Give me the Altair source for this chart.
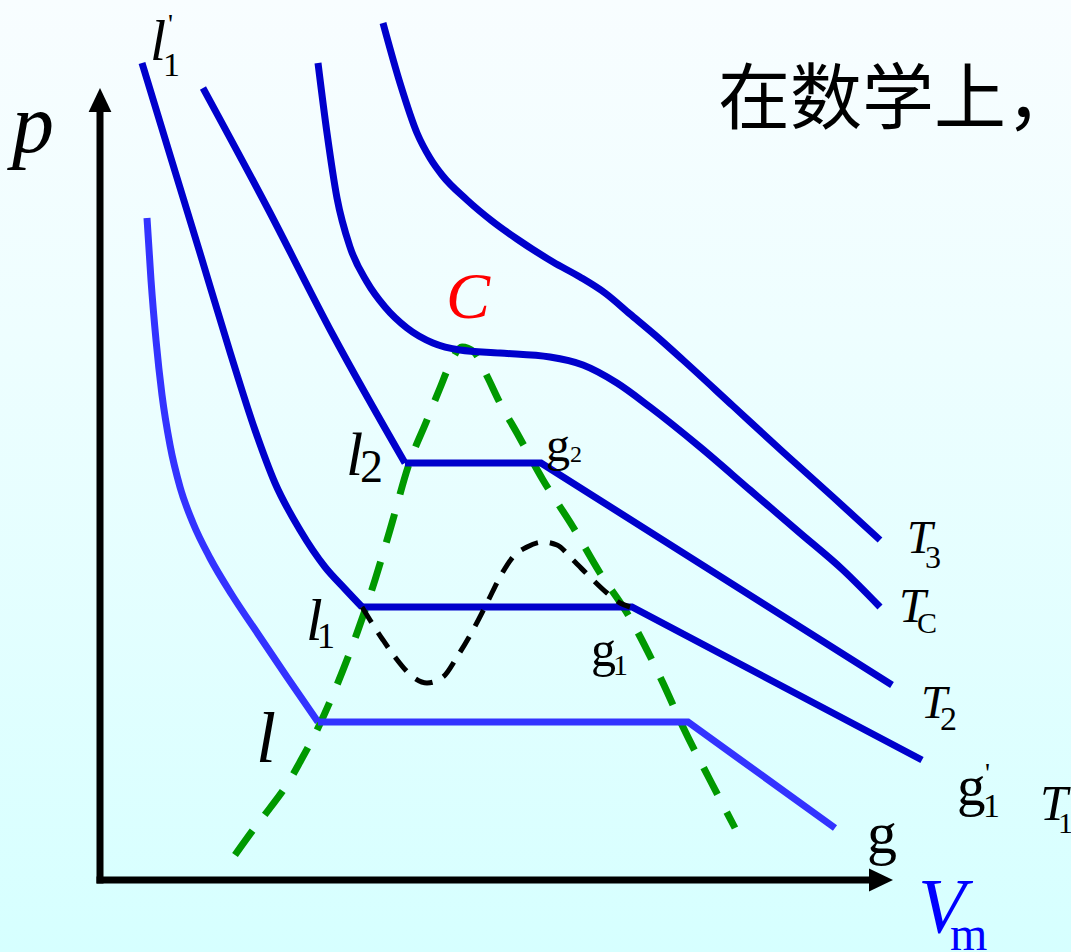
import altair as alt
import pandas as pd

W, H = 1071, 952

# ---- isotherms (diagram coordinates: x = V to the right, y measured down from the top) ----
t3_x = [383, 400, 417, 430, 442, 467, 492, 517, 553, 580, 605, 630, 655, 683, 733, 783, 833, 880]
t3_y = [23, 83, 133, 158, 175, 200, 221, 239, 262, 277, 293, 314, 335, 360, 406, 452, 497, 540]

tc_x = [318, 327, 337, 350, 367, 385, 407, 433, 460, 500, 550, 583, 617, 650, 700, 750, 800, 843, 880]
tc_y = [63, 133, 198, 247, 282, 307, 328, 343, 350, 353, 357, 365, 383, 407, 447, 490, 533, 570, 607]

t2_left_x = [203, 267, 333, 405]
t2_left_y = [88, 207, 335, 463]
t2_right_x = [405, 541, 892]
t2_right_y = [463, 463, 685]

t1_left_x = [142, 170, 200, 230, 255, 275, 300, 325, 345, 362]
t1_left_y = [63, 155, 253, 352, 430, 483, 530, 567, 589, 607]
t1_right_x = [362, 632, 922]
t1_right_y = [607, 607, 760]

low_left_x = [147, 151, 156, 162, 170, 180, 193, 210, 232, 258, 287, 318]
low_left_y = [218, 280, 340, 395, 445, 487, 523, 558, 595, 634, 677, 722]
low_right_x = [318, 688, 835]
low_right_y = [722, 722, 828]

# coexistence boundary (green dashed) through l, l1, l2, C, g2, g1, g
dome_x = [235, 253, 270, 288, 300, 318, 337, 357, 375, 392, 408, 427, 440, 450, 462,
          474, 487, 500, 517, 543, 573, 600, 627, 663, 683, 710, 735]
dome_y = [855, 830, 808, 783, 762, 728, 685, 633, 580, 523, 467, 420, 388, 364, 347,
          352, 376, 403, 433, 480, 527, 573, 613, 683, 727, 780, 828]

# van der Waals loop between l1 and g1 (black dashed)
loop_x = [362, 370, 383, 395, 413, 427, 443, 457, 473, 487, 500, 513, 527, 543, 557,
          573, 590, 607, 620, 630]
loop_y = [607, 620, 640, 657, 677, 683, 677, 657, 630, 603, 577, 557, 547, 542, 545,
          560, 577, 593, 603, 607]

# axes
axis_names = ["p_axis", "p_axis", "v_axis", "v_axis"]
axis_x = [100, 100, 96.5, 870]
axis_y = [883.5, 110, 880, 880]
head_x = [100, 881]
head_y = [100, 880]
head_shape = ["M0,-1L0.95,1L-0.95,1Z", "M1,0L-1,0.95L-1,-0.95Z"]

# ---- labels ----
ital_text = ["p", "l", "C", "l", "l", "l", "T", "T", "T", "T", "V"]
ital_x = [12, 150, 446, 346, 306, 256, 907, 899, 921, 1040, 918]
ital_y = [152, 60, 318, 475, 640, 762, 553, 622, 718, 820, 932]
ital_size = [84, 58, 66, 62, 60, 72, 46, 48, 47, 50, 78]
ital_color = ["#000000", "#000000", "#FF0000", "#000000", "#000000", "#000000",
              "#000000", "#000000", "#000000", "#000000", "#0000FF"]

up_text = ["'", "1", "2", "g", "2", "1", "g", "1", "3", "C", "2", "g", "'", "1", "1", "g", "m"]
up_x = [168, 163, 360, 546, 570, 317, 591, 613, 925, 917, 940, 957, 985, 983, 1058, 867, 950]
up_y = [33, 76, 482, 461, 462, 648, 666, 675, 568, 633, 730, 805, 782, 817, 833, 853, 950]
up_size = [28, 34, 46, 48, 24, 36, 50, 30, 32, 30, 34, 57, 28, 34, 30, 60, 48]
up_color = ["#000000"] * 16 + ["#0000FF"]

cjk_text = ["在数学上，"]
cjk_x = [718]
cjk_y = [123]
cjk_size = [72]

DARK = "#0000CC"
LIGHT = "#3333FF"
SERIF = "Times New Roman, Liberation Serif, serif"


def series(name, xs, ys, color):
    return pd.DataFrame({"curve": name, "i": list(range(len(xs))), "x": xs, "y": ys, "col": color})


X = alt.X("x:Q", scale=alt.Scale(domain=[0, W], nice=False, zero=False), axis=None)
Y = alt.Y("y:Q", scale=alt.Scale(domain=[0, H], nice=False, zero=False, reverse=True), axis=None)

bg = alt.Chart(pd.DataFrame({"x": [0], "x2": [W], "y": [0], "y2": [H]})).mark_rect(
    fill=alt.Gradient(
        gradient="linear", x1=0, y1=0, x2=0, y2=1,
        stops=[alt.GradientStop(color="#F8FDFF", offset=0),
               alt.GradientStop(color="#EEFEFF", offset=0.35),
               alt.GradientStop(color="#D6FFFF", offset=1)],
    ),
    strokeWidth=0,
).encode(x=X, x2="x2:Q", y=Y, y2="y2:Q")

smooth_df = pd.concat([
    series("T3", t3_x, t3_y, DARK),
    series("TC", tc_x, tc_y, DARK),
    series("T2", t2_left_x, t2_left_y, DARK),
    series("T1", t1_left_x, t1_left_y, DARK),
    series("low", low_left_x, low_left_y, LIGHT),
])
straight_df = pd.concat([
    series("T2", t2_right_x, t2_right_y, DARK),
    series("T1", t1_right_x, t1_right_y, DARK),
    series("low", low_right_x, low_right_y, LIGHT),
])

smooth = alt.Chart(smooth_df).mark_line(
    interpolate="monotone", strokeWidth=7, strokeCap="butt"
).encode(x=X, y=Y, detail="curve:N", order="i:Q", color=alt.Color("col:N", scale=None))

straight = alt.Chart(straight_df).mark_line(
    strokeWidth=7, strokeCap="butt", strokeJoin="miter"
).encode(x=X, y=Y, detail="curve:N", order="i:Q", color=alt.Color("col:N", scale=None))

dome = alt.Chart(series("dome", dome_x, dome_y, "#009900")).mark_line(
    interpolate="monotone", strokeWidth=7, strokeDash=[30, 20], color="#009900", strokeCap="butt"
).encode(x=X, y=Y, order="i:Q")

loop = alt.Chart(series("loop", loop_x, loop_y, "#000000")).mark_line(
    interpolate="monotone", strokeWidth=5, strokeDash=[18, 12], color="#000000", strokeCap="butt"
).encode(x=X, y=Y, order="i:Q")

axes = alt.Chart(pd.DataFrame({"curve": axis_names, "i": [0, 1, 0, 1], "x": axis_x, "y": axis_y})).mark_line(
    strokeWidth=7, color="#000000", strokeCap="butt"
).encode(x=X, y=Y, detail="curve:N", order="i:Q")

heads = alt.Chart(pd.DataFrame({"x": head_x, "y": head_y, "shape": head_shape})).mark_point(
    filled=True, size=576, color="#000000", opacity=1, strokeWidth=0
).encode(x=X, y=Y, shape=alt.Shape("shape:N", scale=None))


def labels(text, xs, ys, sizes, colors, font, style):
    df = pd.DataFrame({"t": text, "x": xs, "y": ys, "s": sizes, "c": colors})
    return alt.Chart(df).mark_text(
        align="left", baseline="alphabetic", font=font, fontStyle=style
    ).encode(
        x=X, y=Y, text="t:N",
        size=alt.Size("s:Q", scale=None),
        color=alt.Color("c:N", scale=None),
    )


ital = labels(ital_text, ital_x, ital_y, ital_size, ital_color, SERIF, "italic")
upright = labels(up_text, up_x, up_y, up_size, up_color, SERIF, "normal")
cjk = labels(cjk_text, cjk_x, cjk_y, cjk_size, ["#000000"], "Noto Sans CJK SC", "normal")

chart = alt.layer(bg, dome, smooth, straight, loop, axes, heads, ital, upright, cjk).properties(
    width=W, height=H, padding=0, autosize=alt.AutoSizeParams(type="none")
).configure_view(stroke=None)

chart.save("out.html", embed_options={"renderer": "svg", "actions": False})
